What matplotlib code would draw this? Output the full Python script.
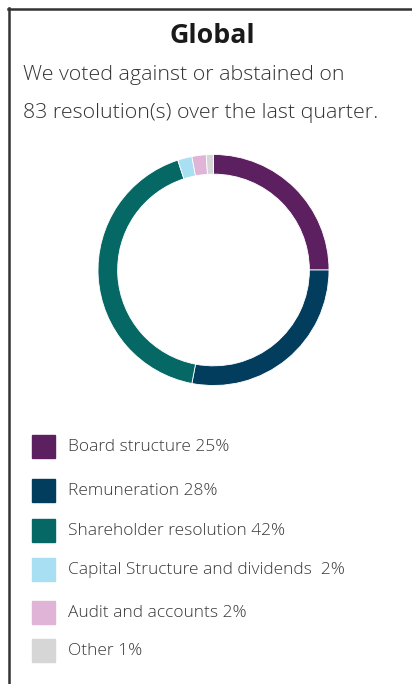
import matplotlib
matplotlib.use("Agg")
import matplotlib.pyplot as plt
from matplotlib.patches import Rectangle
from matplotlib.lines import Line2D

# data
categories = ["Board structure", "Remuneration", "Shareholder resolution",
              "Capital Structure and dividends ", "Audit and accounts", "Other"]
shares = [25, 28, 42, 2, 2, 1]
colors = ["#5c1f5f", "#023d5e", "#066864", "#a8dff2", "#e0b4d6", "#d6d6d6"]

W, H = 412, 684
fig = plt.figure(figsize=(W / 100, H / 100), dpi=100)
fig.patch.set_facecolor("white")


def fx(px):
    return px / W


def fy(py):
    return 1 - py / H


# frame lines (top and left)
fig.add_artist(Line2D([fx(8), fx(412)], [fy(9), fy(9)], color="#333333", lw=1.8))
fig.add_artist(Line2D([fx(9), fx(9)], [fy(8), fy(684)], color="#333333", lw=1.8))

# title and subtitle
fig.text(fx(212), fy(36), "Global", ha="center", va="center",
         fontsize=19.3, fontweight="bold", family="Open Sans", color="#1a1a1a")
fig.text(fx(23), fy(75), "We voted against or abstained on", ha="left", va="center",
         fontsize=15.4, fontweight="light", family="Open Sans", color="#333333")
fig.text(fx(23), fy(113), "83 resolution(s) over the last quarter.", ha="left", va="center",
         fontsize=15.4, fontweight="light", family="Open Sans", color="#333333")

# donut
cx, cy, r = 213.5, 270, 115.5
ax = fig.add_axes([fx(cx - r), fy(cy + r), 2 * r / W, 2 * r / H])
ax.pie(shares, colors=colors, startangle=90, counterclock=False, radius=1,
       wedgeprops=dict(width=0.17, edgecolor="white", linewidth=0.6))
ax.set_xlim(-1, 1)
ax.set_ylim(-1, 1)
ax.axis("off")

# legend
row_y = [447, 491, 531, 570, 613, 651]
for name, val, col, y in zip(categories, shares, colors, row_y):
    fig.add_artist(Rectangle((fx(32), fy(y + 11)), 23 / W, 23 / H,
                             transform=fig.transFigure, color=col))
    fig.text(fx(68), fy(y), f"{name} {val}%", ha="left", va="center",
             fontsize=12.5, fontweight="light", family="Open Sans", color="#3a3a3a")

fig.savefig("out.png", dpi=100)
